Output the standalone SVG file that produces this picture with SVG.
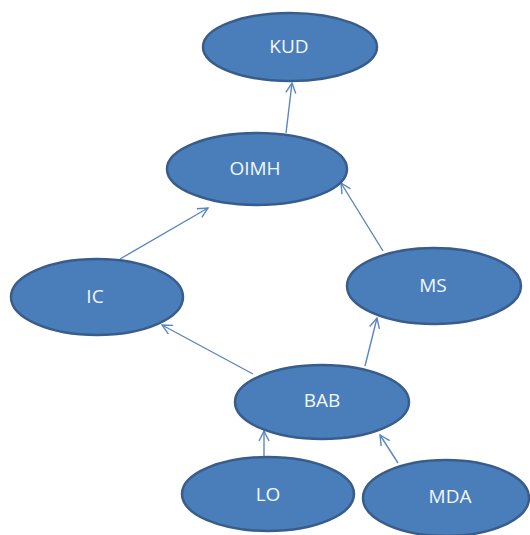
<svg xmlns="http://www.w3.org/2000/svg" width="530" height="535" viewBox="0 0 530 535">
<defs>
<marker id="arr" viewBox="0 0 12 12" refX="11" refY="6" markerWidth="12" markerHeight="12" markerUnits="userSpaceOnUse" orient="auto">
<path d="M1,1 L11,6 L1,11" fill="none" stroke="#5b87bf" stroke-width="1.4"/>
</marker>
<style>
.n{fill:#4a7ebb;stroke:#385d8a;stroke-width:2.5}
.t{font-family:"Open Sans","Liberation Sans",sans-serif;font-size:19px;fill:#f3f6fb;text-anchor:middle;dominant-baseline:central}
.c{stroke:#5b87bf;stroke-width:1.4;fill:none;marker-end:url(#arr)}
</style>
</defs>
<rect width="530" height="535" fill="#ffffff"/>
<g id="connectors">
<line class="c" x1="286" y1="133" x2="292" y2="83"/>
<line class="c" x1="120" y1="259" x2="208" y2="208"/>
<line class="c" x1="383" y1="251" x2="341" y2="183"/>
<line class="c" x1="253" y1="374" x2="162" y2="325"/>
<line class="c" x1="365" y1="366" x2="377" y2="318"/>
<line class="c" x1="264" y1="456" x2="264" y2="431"/>
<line class="c" x1="398" y1="463" x2="380" y2="435"/>
</g>
<g id="KUD"><ellipse class="n" cx="290" cy="47" rx="87" ry="34"/><text class="t" x="289" y="46">KUD</text></g>
<g id="OIMH"><ellipse class="n" cx="257" cy="169" rx="90" ry="36"/><text class="t" x="255" y="168">OIMH</text></g>
<g id="IC"><ellipse class="n" cx="97" cy="297" rx="86" ry="38"/><text class="t" x="95" y="296">IC</text></g>
<g id="MS"><ellipse class="n" cx="434" cy="286" rx="87" ry="38"/><text class="t" x="433" y="285">MS</text></g>
<g id="BAB"><ellipse class="n" cx="322" cy="402" rx="87" ry="37"/><text class="t" x="322" y="400">BAB</text></g>
<g id="LO"><ellipse class="n" cx="268" cy="494" rx="86" ry="37"/><text class="t" x="268" y="494">LO</text></g>
<g id="MDA"><ellipse class="n" cx="446" cy="498" rx="83" ry="38"/><text class="t" x="450" y="496">MDA</text></g>
</svg>
